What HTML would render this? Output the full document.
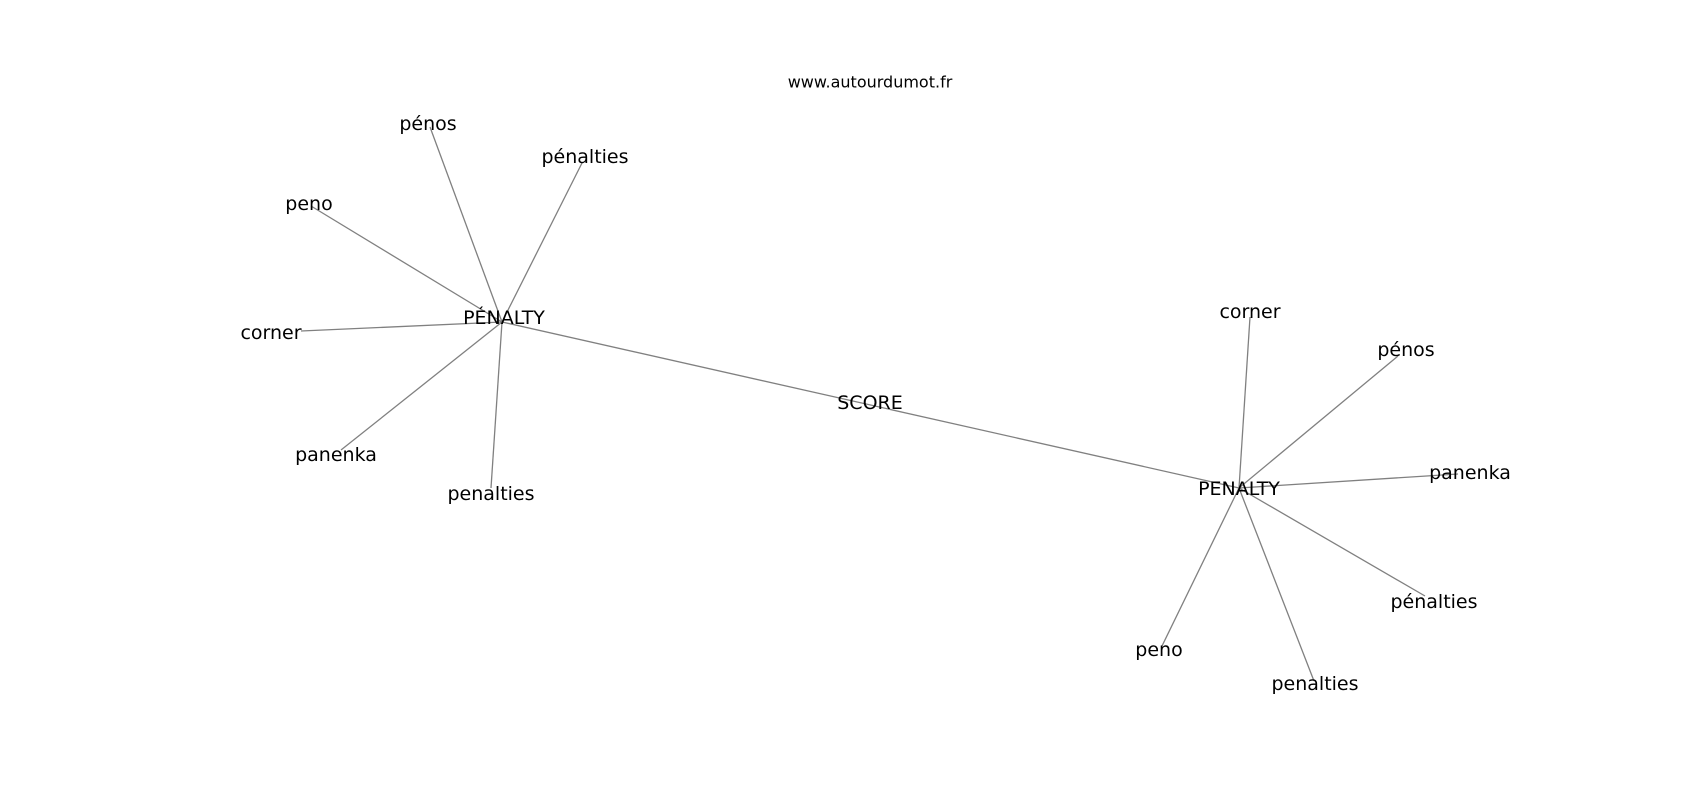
<!DOCTYPE html>
<html><head><meta charset="utf-8"><style>
html,body{margin:0;padding:0;background:#fff;width:1700px;height:800px;overflow:hidden}
text{font-family:"DejaVu Sans","Liberation Sans",sans-serif;fill:#000}
</style></head><body>
<svg width="1700" height="800" viewBox="0 0 1700 800" xmlns="http://www.w3.org/2000/svg">
<g stroke="#808080" stroke-width="1.3" fill="none">
<line x1="502" y1="322" x2="430" y2="127"/>
<line x1="502" y1="322" x2="582" y2="163"/>
<line x1="502" y1="322" x2="311" y2="206"/>
<line x1="502" y1="322" x2="301" y2="331"/>
<line x1="502" y1="322" x2="341" y2="450"/>
<line x1="502" y1="322" x2="491" y2="488"/>
<line x1="502" y1="322" x2="1239" y2="488"/>
<line x1="1239" y1="488" x2="1250" y2="317"/>
<line x1="1239" y1="488" x2="1398" y2="356"/>
<line x1="1239" y1="488" x2="1458" y2="474"/>
<line x1="1239" y1="488" x2="1425" y2="596"/>
<line x1="1239" y1="488" x2="1162" y2="646"/>
<line x1="1239" y1="488" x2="1314" y2="681"/>
</g>
<g font-size="19" text-anchor="middle" dominant-baseline="central">
<text x="870" y="82" font-size="16">www.autourdumot.fr</text>
<text x="504" y="318">PÉNALTY</text>
<text x="428" y="124">pénos</text>
<text x="585" y="157">pénalties</text>
<text x="309" y="204">peno</text>
<text x="271" y="333">corner</text>
<text x="336" y="455">panenka</text>
<text x="491" y="494">penalties</text>
<text x="870" y="403">SCORE</text>
<text x="1239" y="489">PENALTY</text>
<text x="1250" y="312">corner</text>
<text x="1406" y="350">pénos</text>
<text x="1470" y="473">panenka</text>
<text x="1434" y="602">pénalties</text>
<text x="1159" y="650">peno</text>
<text x="1315" y="684">penalties</text>
</g>
</svg>
</body></html>
